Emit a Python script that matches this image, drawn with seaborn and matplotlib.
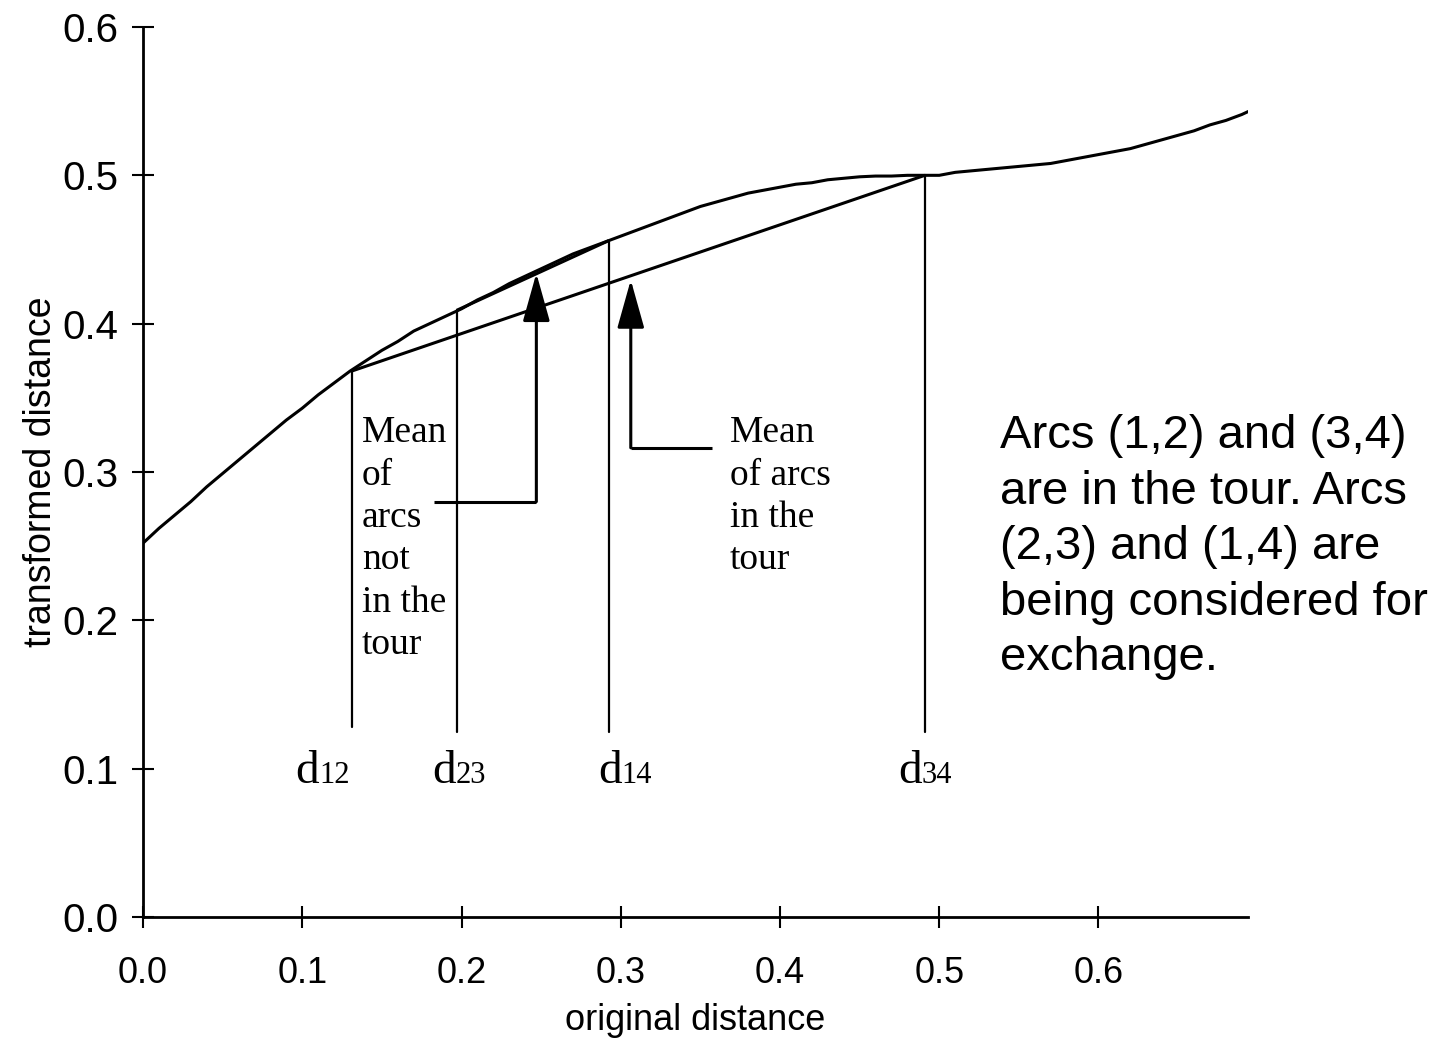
import numpy as np
import pandas as pd
import matplotlib
matplotlib.use("Agg")
import matplotlib.pyplot as plt
import seaborn as sns

# ---- data ----
orig_dist = [0.00, 0.01, 0.02, 0.03, 0.04, 0.05, 0.06, 0.07, 0.08, 0.09,
             0.10, 0.11, 0.12, 0.13, 0.14, 0.15, 0.16, 0.17, 0.18, 0.19,
             0.20, 0.21, 0.22, 0.23, 0.24, 0.25, 0.26, 0.27, 0.28, 0.29,
             0.30, 0.31, 0.32, 0.33, 0.34, 0.35, 0.36, 0.37, 0.38, 0.39,
             0.40, 0.41, 0.42, 0.43, 0.44, 0.45, 0.46, 0.47, 0.48, 0.49,
             0.50, 0.51, 0.52, 0.53, 0.54, 0.55, 0.56, 0.57, 0.58, 0.59,
             0.60, 0.61, 0.62, 0.63, 0.64, 0.65, 0.66, 0.67, 0.68, 0.69, 0.694]
trans_dist = [0.252, 0.262, 0.271, 0.280, 0.290, 0.299, 0.308, 0.317, 0.326, 0.335,
              0.343, 0.352, 0.360, 0.368, 0.375, 0.382, 0.388, 0.395, 0.400, 0.405,
              0.410, 0.416, 0.421, 0.427, 0.432, 0.437, 0.442, 0.447, 0.451, 0.455,
              0.459, 0.463, 0.467, 0.471, 0.475, 0.479, 0.482, 0.485, 0.488, 0.490,
              0.492, 0.494, 0.495, 0.497, 0.498, 0.499, 0.4995, 0.4995, 0.500, 0.500,
              0.500, 0.502, 0.503, 0.504, 0.505, 0.506, 0.507, 0.508, 0.510, 0.512,
              0.514, 0.516, 0.518, 0.521, 0.524, 0.527, 0.530, 0.534, 0.537, 0.541, 0.543]

arc_names = ["12", "23", "14", "34"]
arc_x = [0.131, 0.197, 0.2925, 0.491]
arc_y = [0.368, 0.409, 0.456, 0.500]
arc_drop_y = [0.128, 0.125, 0.125, 0.125]
arc_label_x = [0.1105, 0.1965, 0.3007, 0.489]
arc_label_y = 0.0904

in_tour = ["12", "34"]
not_in_tour = ["23", "14"]

# arrows: tip, corner (y), tail end (x)
arrow_tip_x = [0.247, 0.3063]
arrow_tip_y = [0.434, 0.4295]
arrow_corner_y = [0.280, 0.3163]
arrow_tail_x = [0.183, 0.357]

note_text = "Arcs (1,2) and (3,4)\nare in the tour. Arcs\n(2,3) and (1,4) are\nbeing considered for\nexchange."
mean_not_text = "Mean\nof\narcs\nnot\nin the\ntour"
mean_in_text = "Mean\nof arcs\nin the\ntour"

x_ticks = [0.0, 0.1, 0.2, 0.3, 0.4, 0.5, 0.6]
y_ticks = [0.0, 0.1, 0.2, 0.3, 0.4, 0.5, 0.6]

# ---- figure ----
sns.set_theme(style="ticks")
plt.rcParams["font.family"] = ["Liberation Sans", "DejaVu Sans"]
plt.rcParams["text.color"] = "black"
plt.rcParams["axes.labelcolor"] = "black"
plt.rcParams["xtick.color"] = "black"
plt.rcParams["ytick.color"] = "black"

fig = plt.figure(figsize=(14.46, 10.38), dpi=100)
ax = fig.add_axes([0.0989, 0.1166, 0.7643, 0.8574])

df = pd.DataFrame({"original distance": orig_dist, "transformed distance": trans_dist})
sns.lineplot(data=df, x="original distance", y="transformed distance", ax=ax,
             color="black", linewidth=2.2, estimator=None, sort=True)

# chords
idx = {n: i for i, n in enumerate(arc_names)}
for pair in (in_tour, not_in_tour):
    xs = [arc_x[idx[n]] for n in pair]
    ys = [arc_y[idx[n]] for n in pair]
    ax.plot(xs, ys, color="black", linewidth=2.2, solid_capstyle="butt")

# drop lines and labels
serif = ["Liberation Serif", "DejaVu Serif"]
for n, x, y, yb, lx in zip(arc_names, arc_x, arc_y, arc_drop_y, arc_label_x):
    ax.plot([x, x], [yb, y], color="black", linewidth=1.6)
    ax.text(lx, arc_label_y, "d", ha="right", va="baseline", fontsize=34,
            family=serif, color="black")
    ax.text(lx, arc_label_y, n, ha="left", va="baseline", fontsize=22,
            family=serif, color="black")

# arrows
for tx, ty, cy, ex in zip(arrow_tip_x, arrow_tip_y, arrow_corner_y, arrow_tail_x):
    ax.plot([ex, tx], [cy, cy], color="black", linewidth=2.2, solid_capstyle="butt")
    ax.annotate("", xy=(tx, ty), xytext=(tx, cy),
                arrowprops=dict(arrowstyle="-|>,head_length=1.0,head_width=0.28",
                                mutation_scale=30, lw=2.2, color="black",
                                shrinkA=0, shrinkB=0))

ax.text(0.1375, 0.338, mean_not_text, ha="left", va="top", fontsize=27,
        family=serif, linespacing=1.3, color="black")
ax.text(0.3685, 0.338, mean_in_text, ha="left", va="top", fontsize=27,
        family=serif, linespacing=1.3, color="black")

ax.text(0.538, 0.339, note_text, ha="left", va="top", fontsize=34,
        linespacing=1.34, color="black")

ax.set_xlim(0, 0.694)
ax.set_ylim(0, 0.6)
ax.set_xticks(x_ticks)
ax.set_yticks(y_ticks)
ax.set_xticklabels([f"{v:.1f}" for v in x_ticks])
ax.set_yticklabels([f"{v:.1f}" for v in y_ticks])
ax.set_xlabel("original distance", fontsize=26, labelpad=9, color="black")
ax.set_ylabel("transformed distance", fontsize=27, labelpad=2, color="black")
ax.tick_params(axis="both", direction="inout", length=16, width=1.5,
               colors="black")
ax.tick_params(axis="x", labelsize=26, pad=20)
ax.tick_params(axis="y", labelsize=29, pad=10)
sns.despine(ax=ax)
for s in ("left", "bottom"):
    ax.spines[s].set_linewidth(2.0)
    ax.spines[s].set_color("black")
ax.set_facecolor("white")
fig.patch.set_facecolor("white")

fig.savefig("out.png", dpi=100, facecolor="white")
